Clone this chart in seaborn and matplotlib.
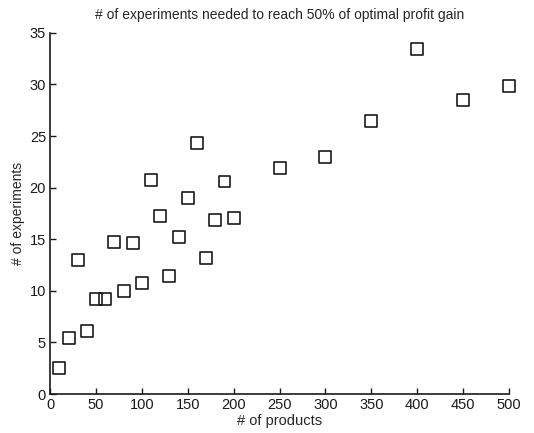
import matplotlib.pyplot as plt
import pandas as pd
import seaborn as sns

products = [10, 20, 30, 40, 50, 60, 70, 80, 90, 100, 110, 120, 130, 140, 150,
            160, 170, 180, 190, 200, 250, 300, 350, 400, 450, 500]
experiments = [2.5, 5.4, 13.0, 6.1, 9.2, 9.2, 14.7, 10.0, 14.6, 10.8, 20.7, 17.3, 11.4, 15.2, 19.0,
               24.3, 13.2, 16.9, 20.6, 17.1, 21.9, 23.0, 26.5, 33.4, 28.5, 29.9]

x_ticks = [0, 50, 100, 150, 200, 250, 300, 350, 400, 450, 500]
y_ticks = [0, 5, 10, 15, 20, 25, 30, 35]

TITLE = "# of experiments needed to reach 50% of optimal profit gain"


def main() -> None:
    sns.set_theme(style="ticks")
    plt.rcParams["font.family"] = ["Liberation Sans", "DejaVu Sans"]

    df = pd.DataFrame({"products": products, "experiments": experiments})

    fig = plt.figure(figsize=(5.34, 4.33), dpi=100)
    ax = fig.add_axes([0.094, 0.090, 0.859, 0.834])

    sns.scatterplot(data=df, x="products", y="experiments", ax=ax, marker="s",
                    s=74, facecolor="none", edgecolor="#1a1a1a", linewidth=1.2,
                    clip_on=False, zorder=3)

    ax.set_xlim(0, 500)
    ax.set_ylim(0, 35)
    ax.set_xticks(x_ticks)
    ax.set_yticks(y_ticks)
    ax.tick_params(direction="in", length=4, width=1, labelsize=10.5, colors="#1a1a1a", pad=3)
    for side in ["left", "bottom"]:
        ax.spines[side].set_linewidth(1.2)
        ax.spines[side].set_color("#1a1a1a")
    sns.despine(ax=ax)

    ax.set_xlabel("# of products", fontsize=10.5, labelpad=1)
    ax.set_ylabel("# of experiments", fontsize=10, labelpad=3)
    ax.set_title(TITLE, fontsize=10, pad=10)

    fig.savefig("out.png", dpi=100)
    plt.close(fig)


if __name__ == "__main__":
    main()
